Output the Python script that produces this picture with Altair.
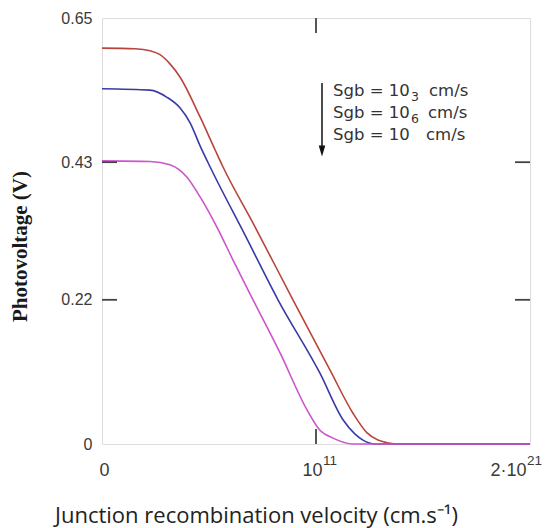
import altair as alt
import pandas as pd

# ---------------- data ----------------
series_names = ["Sgb = 10 cm/s", "Sgb = 10³ cm/s", "Sgb = 10⁶ cm/s"]
series_colors = ["#b8453c", "#3a3aa6", "#cc55cc"]

# x values given as log10 of the junction recombination velocity
red_exp = [0.70, 2.29, 3.01, 3.49, 3.97, 4.45, 5.42, 6.14, 6.52, 8.02, 9.89, 11.67, 12.78, 13.46, 13.98, 14.42, 15.04, 21.30]
red_v = [0.604, 0.603, 0.600, 0.594, 0.580, 0.560, 0.499, 0.449, 0.423, 0.334, 0.220, 0.113, 0.047, 0.017, 0.006, 0.002, 0.0, 0.0]

blue_exp = [0.70, 3.01, 3.83, 4.45, 4.94, 5.42, 5.90, 7.58, 9.17, 11.19, 12.30, 12.88, 13.26, 13.84, 21.30]
blue_v = [0.542, 0.540, 0.529, 0.513, 0.490, 0.455, 0.423, 0.319, 0.220, 0.108, 0.037, 0.015, 0.006, 0.0, 0.0]

mag_exp = [0.70, 3.01, 3.97, 4.79, 5.42, 6.23, 7.00, 7.97, 9.27, 10.57, 11.19, 11.82, 12.78, 21.30]
mag_v = [0.432, 0.431, 0.426, 0.407, 0.377, 0.331, 0.281, 0.220, 0.139, 0.052, 0.021, 0.009, 0.0, 0.0]

x_domain = [5, 2e21]
x_tick_values = [5, 1e11, 2e21]
x_tick_labels = ["0", "10", "2·10"]      # mantissa parts
x_tick_exponents = ["11", "21"]          # superscripts of the 2nd and 3rd labels
y_tick_values = [0, 0.22, 0.43, 0.65]
inner_y_ticks = [0.22, 0.43]
inner_x_ticks = [1e11]

rows = []
for i, (name, exps, vals) in enumerate(zip(series_names, [red_exp, blue_exp, mag_exp], [red_v, blue_v, mag_v])):
    for k, (e, v) in enumerate(zip(exps, vals)):
        rows.append({"series": name, "Sf": 10 ** e, "V": v, "ord": i, "k": k})
df = pd.DataFrame(rows)

W, H = 428, 426
frame_col = "#555555"
tick_col = "#444444"
lab_col = "#3a3a3a"

label_expr = (
    f"datum.value < 1e3 ? '{x_tick_labels[0]}' : "
    f"(datum.value < 1e15 ? '{x_tick_labels[1]}' : '{x_tick_labels[2]}')"
)

x_enc = alt.X(
    "Sf:Q",
    scale=alt.Scale(type="log", domain=x_domain, nice=False),
    axis=alt.Axis(
        values=x_tick_values,
        labelExpr=label_expr,
        ticks=False,
        grid=False,
        domain=False,
        labelFlush=False,
        labelFont="Liberation Sans",
        labelFontSize=18,
        labelColor=lab_col,
        labelPadding=17,
        labelOffset={"condition": [{"test": "datum.value > 1e20", "value": -22},
                                   {"test": "datum.value > 1e3", "value": -4}], "value": 2},
        title="Junction recombination velocity (cm.s⁻¹)",
        titleFont="Open Sans",
        titleFontSize=22,
        titleFontWeight="normal",
        titleColor="#222222",
        titleX=154,
        titleY=71,
        titleBaseline="middle",
        titleAlign="center",
    ),
)

y_enc = alt.Y(
    "V:Q",
    scale=alt.Scale(domain=[0, 0.65], nice=False),
    axis=alt.Axis(
        values=y_tick_values,
        format=".2~f",
        ticks=False,
        grid=False,
        domain=False,
        labelFont="Liberation Sans",
        labelFontSize=16,
        labelColor=lab_col,
        labelPadding=10,
        title="Photovoltage (V)",
        titleFont="Liberation Serif",
        titleFontSize=21,
        titleFontWeight="bold",
        titleColor="#1a1a1a",
        titleX=-82,
        titleY=228,
        titleAngle=-90,
        titleBaseline="middle",
        titleAlign="center",
    ),
)

lines = alt.Chart(df).mark_line(strokeWidth=1.6, interpolate="monotone").encode(
    x=x_enc,
    y=y_enc,
    color=alt.Color("series:N", scale=alt.Scale(domain=series_names, range=series_colors), legend=None),
    order=alt.Order("k:Q"),
    detail="series:N",
)

ytk = pd.DataFrame({"V": inner_y_ticks})
xtk = pd.DataFrame({"Sf": inner_x_ticks})

left_ticks = alt.Chart(ytk).mark_rule(color=tick_col, strokeWidth=1.8).encode(
    y="V:Q", x=alt.value(0), x2=alt.value(15))
right_ticks = alt.Chart(ytk).mark_rule(color=tick_col, strokeWidth=1.8).encode(
    y="V:Q", x=alt.value(W - 15), x2=alt.value(W))
bottom_ticks = alt.Chart(xtk).mark_rule(color=tick_col, strokeWidth=1.8).encode(
    x="Sf:Q", y=alt.value(H), y2=alt.value(H - 15))
top_ticks = alt.Chart(xtk).mark_rule(color=tick_col, strokeWidth=1.8).encode(
    x="Sf:Q", y=alt.value(0), y2=alt.value(15))


def txt(s, x, y, size=16.5, font="DejaVu Sans", color="#333333"):
    return alt.Chart(pd.DataFrame({"t": [s]})).mark_text(
        align="left", baseline="middle", font=font,
        fontSize=size, color=color
    ).encode(text="t:N", x=alt.value(x), y=alt.value(y))


annot = [
    txt("Sgb = 10", 231, 73),
    txt("Sgb = 10", 231, 95),
    txt("Sgb = 10", 231, 117),
    txt("cm/s", 327, 73),
    txt("cm/s", 326, 95),
    txt("cm/s", 324, 117),
    txt("3", 309, 79, size=12.5),
    txt("6", 309, 101, size=12.5),
    # superscripts of the x tick labels
    txt(x_tick_exponents[0], 221, 443, size=13.5, font="Liberation Sans", color=lab_col),
    txt(x_tick_exponents[1], 425, 443, size=13.5, font="Liberation Sans", color=lab_col),
]

one = pd.DataFrame({"a": [0]})
arrow_shaft = alt.Chart(one).mark_rule(color="#111111", strokeWidth=1.5).encode(
    x=alt.value(220), y=alt.value(65), y2=alt.value(130))
arrow_head = alt.Chart(one).mark_point(
    shape="M -0.6 -1 L 0.6 -1 L 0 1 Z", filled=True, size=120, color="#111111", opacity=1
).encode(x=alt.value(220), y=alt.value(133))

chart = alt.layer(
    lines, left_ticks, right_ticks, bottom_ticks, top_ticks, arrow_shaft, arrow_head, *annot
).properties(
    width=W,
    height=H,
    autosize=alt.AutoSizeParams(type="none"),
    padding={"left": 94, "top": 10, "right": 12, "bottom": 90},
).configure_view(
    stroke=frame_col, strokeWidth=2
).configure(background="white")

chart.save("out.html", embed_options={"renderer": "svg", "actions": False})
